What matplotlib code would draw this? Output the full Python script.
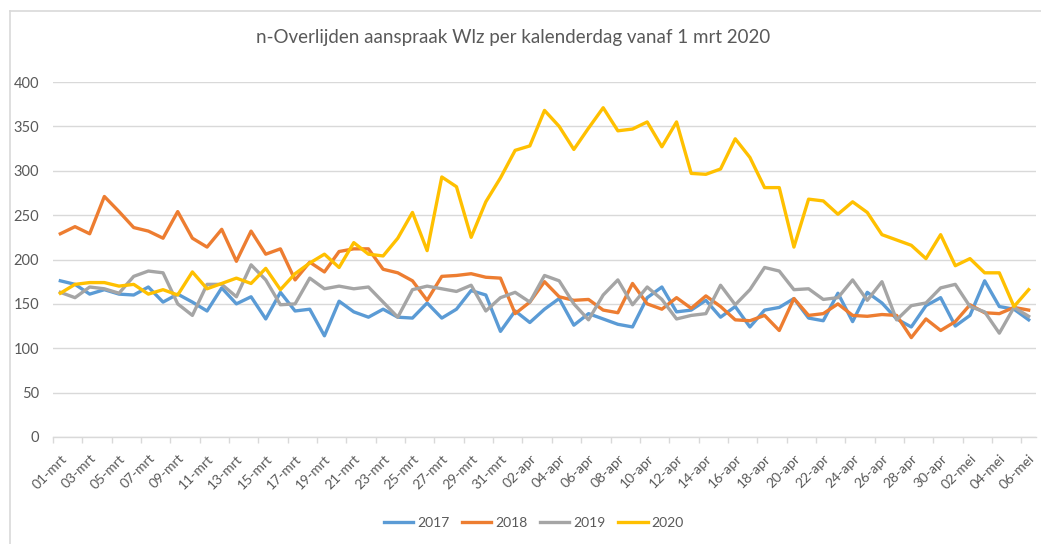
import matplotlib
matplotlib.use('Agg')
import matplotlib.pyplot as plt
from matplotlib.lines import Line2D

plt.rcParams['font.family'] = ['Lato', 'DejaVu Sans']

# dagen 01-mrt t/m 06-mei
dagen = ['%02d-mrt' % d for d in range(1, 32)] + ['%02d-apr' % d for d in range(1, 31)] + ['%02d-mei' % d for d in range(1, 7)]

# waarden
y2017 = [176, 172, 161, 166, 161, 160, 169, 152, 161, 152, 142, 168, 150, 158, 133, 163, 142, 144, 114, 153,
         141, 135, 144, 135, 134, 151, 134, 144, 165, 160, 119, 142, 129, 144, 156, 126, 139, 133, 127, 124,
         157, 169, 141, 143, 154, 135, 147, 124, 143, 146, 156, 134, 131, 162, 130, 163, 151, 133, 124, 148,
         157, 125, 137, 176, 147, 144, 132]
y2018 = [229, 237, 229, 271, 254, 236, 232, 224, 254, 224, 214, 234, 198, 232, 206, 212, 177, 197, 186, 209,
         212, 212, 189, 185, 176, 154, 181, 182, 184, 180, 179, 139, 152, 175, 158, 154, 155, 143, 140, 173,
         150, 144, 157, 145, 159, 147, 132, 131, 137, 120, 156, 137, 139, 150, 137, 136, 138, 137, 112, 133,
         120, 130, 149, 140, 139, 146, 143]
y2019 = [163, 157, 169, 167, 162, 181, 187, 185, 150, 137, 172, 172, 158, 194, 177, 149, 150, 179, 167, 170,
         167, 169, 152, 135, 166, 170, 167, 164, 171, 142, 157, 163, 152, 182, 176, 150, 132, 160, 177, 149,
         169, 155, 133, 137, 139, 171, 149, 166, 191, 187, 166, 167, 155, 157, 177, 154, 175, 132, 148, 151,
         168, 172, 147, 141, 117, 146, 136]
y2020 = [162, 172, 174, 174, 170, 172, 161, 166, 160, 186, 167, 173, 179, 173, 190, 166, 184, 196, 206, 191,
         219, 206, 204, 224, 253, 210, 293, 282, 225, 265, 292, 323, 328, 368, 350, 324, 348, 371, 345, 347,
         355, 327, 355, 297, 296, 302, 336, 315, 281, 281, 214, 268, 266, 251, 265, 253, 228, 222, 216, 201,
         228, 193, 201, 185, 185, 147, 166]

jaren = ['2017', '2018', '2019', '2020']
reeksen = [y2017, y2018, y2019, y2020]
kleuren = ['#5B9BD5', '#ED7D31', '#A5A5A5', '#FFC000']

fig = plt.figure(figsize=(10.41, 5.44), dpi=100)
ax = fig.add_axes([53/1041, 1-437/544, (1036-53)/1041, (437-82)/544])

x = list(range(len(dagen)))
for jaar, reeks, kleur in zip(jaren, reeksen, kleuren):
    ax.plot(x, reeks, color=kleur, lw=2.4, label=jaar, solid_joinstyle='round', zorder=3)

ax.set_xlim(-0.5, len(dagen)-0.5)
ax.set_ylim(0, 400)
ax.set_yticks(range(0, 401, 50))
ax.grid(axis='y', color='#D9D9D9', lw=1, zorder=0)
for s in ['top', 'right', 'left']:
    ax.spines[s].set_visible(False)
ax.spines['bottom'].set_color('#D9D9D9')
ax.spines['bottom'].set_linewidth(1)

ax.set_xticks(x[::2])
ax.set_xticklabels(dagen[::2], rotation=45, ha='right', rotation_mode='anchor')
ax.set_xticks([i-0.5 for i in range(0, len(dagen), 2)], minor=True)
ax.tick_params(axis='x', which='major', length=0, pad=11, labelsize=10, labelcolor='#595959')
ax.tick_params(axis='x', which='minor', length=4, color='#D9D9D9', width=1)
ax.tick_params(axis='y', length=0, pad=10, labelsize=10.5, labelcolor='#595959')

fig.text(513/1041, 1-43/544, 'n-Overlijden aanspraak Wlz per kalenderdag vanaf 1 mrt 2020',
         ha='center', va='baseline', fontsize=13.5, color='#595959')

fig.legend(loc='center', bbox_to_anchor=(534/1041, 1-523/544), ncol=4, frameon=False,
           fontsize=10, handlelength=2.1, handletextpad=0.3, columnspacing=0.9, labelcolor='#595959')

# rand van het grafiekgebied
fig.add_artist(Line2D([10/1041, 10/1041], [0, 1-11/544], color='#D9D9D9', lw=1.2))
fig.add_artist(Line2D([10/1041, 1], [1-11/544, 1-11/544], color='#D9D9D9', lw=1.2))

fig.savefig('out.png', dpi=100)
